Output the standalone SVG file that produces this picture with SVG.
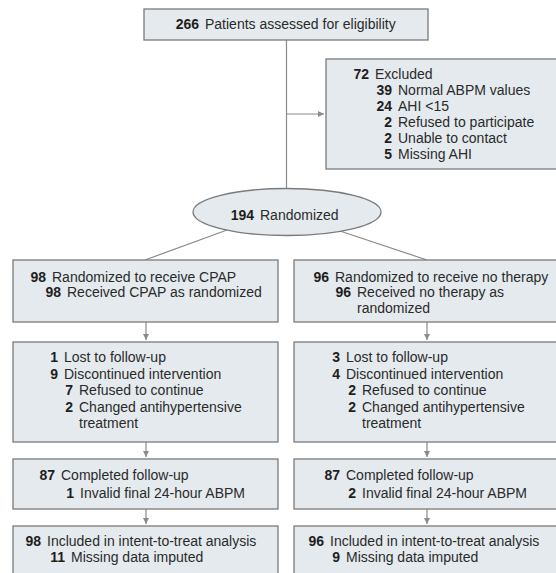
<svg xmlns="http://www.w3.org/2000/svg" width="556" height="573" viewBox="0 0 556 573">
<defs>
<style>
.box{fill:#e5eaee;stroke:#7a7a7a;stroke-width:1.3}
.ln{fill:none;stroke:#8a8a8a;stroke-width:1.2}
text{font-family:"Liberation Sans",Arial,sans-serif;font-size:14px;fill:#2a2a2a}
.n{font-weight:bold;fill:#1e1e1e;text-anchor:end}
</style>
<marker id="ah" markerUnits="userSpaceOnUse" markerWidth="7" markerHeight="7" refX="6" refY="3" orient="auto">
<path d="M0,0 L6,3 L0,6 z" fill="#8a8a8a"/>
</marker>
</defs>
<rect width="556" height="573" fill="#ffffff"/>
<g id="connectors">
<line class="ln" x1="286.5" y1="40" x2="286.5" y2="189"/>
<line class="ln" x1="286.5" y1="114" x2="324" y2="114" marker-end="url(#ah)"/>
<line class="ln" x1="227" y1="230" x2="145" y2="260"/>
<line class="ln" x1="340" y1="231" x2="427" y2="260"/>
<line class="ln" x1="146" y1="322" x2="146" y2="340" marker-end="url(#ah)"/>
<line class="ln" x1="427" y1="322" x2="427" y2="340" marker-end="url(#ah)"/>
<line class="ln" x1="146" y1="442" x2="146" y2="457" marker-end="url(#ah)"/>
<line class="ln" x1="427" y1="442" x2="427" y2="457" marker-end="url(#ah)"/>
<line class="ln" x1="146" y1="509" x2="146" y2="524" marker-end="url(#ah)"/>
<line class="ln" x1="427" y1="509" x2="427" y2="524" marker-end="url(#ah)"/>
</g>
<g id="assessed">
<rect class="box" x="144" y="9" width="284" height="31"/>
<text x="199" y="29" class="n">266</text><text x="205" y="29">Patients assessed for eligibility</text>
</g>
<g id="excluded">
<rect class="box" x="326" y="59" width="240" height="110"/>
<text x="369" y="79" class="n">72</text><text x="375" y="79">Excluded</text>
<text x="392" y="95" class="n">39</text><text x="398" y="95">Normal ABPM values</text>
<text x="392" y="111" class="n">24</text><text x="398" y="111">AHI &lt;15</text>
<text x="392" y="127" class="n">2</text><text x="398" y="127">Refused to participate</text>
<text x="392" y="143" class="n">2</text><text x="398" y="143">Unable to contact</text>
<text x="392" y="159" class="n">5</text><text x="398" y="159">Missing AHI</text>
</g>
<g id="randomized">
<ellipse class="box" cx="287" cy="212" rx="94" ry="23.5"/>
<text x="254" y="219.5" class="n">194</text><text x="260" y="219.5">Randomized</text>
</g>
<g id="cpap-alloc">
<rect class="box" x="13" y="260" width="265" height="62"/>
<text x="46" y="282" class="n">98</text><text x="52" y="282">Randomized to receive CPAP</text>
<text x="61" y="297" class="n">98</text><text x="67" y="297">Received CPAP as randomized</text>
</g>
<g id="none-alloc">
<rect class="box" x="294" y="260" width="272" height="62"/>
<text x="329" y="282" class="n">96</text><text x="335" y="282">Randomized to receive no therapy</text>
<text x="351" y="297" class="n">96</text><text x="357" y="297">Received no therapy as</text>
<text x="357" y="313">randomized</text>
</g>
<g id="cpap-follow">
<rect class="box" x="13" y="342" width="265" height="100"/>
<text x="58" y="362" class="n">1</text><text x="64" y="362">Lost to follow-up</text>
<text x="58" y="379" class="n">9</text><text x="64" y="379">Discontinued intervention</text>
<text x="73" y="395" class="n">7</text><text x="79" y="395">Refused to continue</text>
<text x="73" y="412" class="n">2</text><text x="79" y="412">Changed antihypertensive</text>
<text x="79" y="428">treatment</text>
</g>
<g id="none-follow">
<rect class="box" x="294" y="342" width="272" height="100"/>
<text x="340" y="362" class="n">3</text><text x="346" y="362">Lost to follow-up</text>
<text x="340" y="379" class="n">4</text><text x="346" y="379">Discontinued intervention</text>
<text x="356" y="395" class="n">2</text><text x="362" y="395">Refused to continue</text>
<text x="356" y="412" class="n">2</text><text x="362" y="412">Changed antihypertensive</text>
<text x="362" y="428">treatment</text>
</g>
<g id="cpap-completed">
<rect class="box" x="13" y="459" width="265" height="50"/>
<text x="55" y="480" class="n">87</text><text x="61" y="480">Completed follow-up</text>
<text x="74" y="498" class="n">1</text><text x="80" y="498">Invalid final 24-hour ABPM</text>
</g>
<g id="none-completed">
<rect class="box" x="294" y="459" width="272" height="50"/>
<text x="340" y="480" class="n">87</text><text x="346" y="480">Completed follow-up</text>
<text x="356" y="498" class="n">2</text><text x="362" y="498">Invalid final 24-hour ABPM</text>
</g>
<g id="cpap-itt">
<rect class="box" x="13" y="526" width="265" height="60"/>
<text x="41" y="546" class="n">98</text><text x="47" y="546">Included in intent-to-treat analysis</text>
<text x="65" y="562" class="n">11</text><text x="71" y="562">Missing data imputed</text>
</g>
<g id="none-itt">
<rect class="box" x="294" y="526" width="272" height="60"/>
<text x="324" y="546" class="n">96</text><text x="330" y="546">Included in intent-to-treat analysis</text>
<text x="340" y="562" class="n">9</text><text x="346" y="562">Missing data imputed</text>
</g>
</svg>
